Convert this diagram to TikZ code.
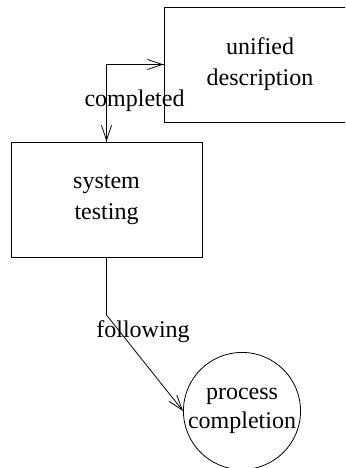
\documentclass[tikz,border=0pt]{standalone}
\usepackage{fontspec}
\setmainfont{Liberation Serif}
\usetikzlibrary{arrows.meta}
\begin{document}
\begin{tikzpicture}[x=1pt,y=1pt,
  box/.style={draw, line width=0.8pt, rectangle, align=center, font=\fontsize{24}{31}\selectfont, inner sep=0pt},
  circ/.style={draw, line width=0.8pt, circle, align=center, font=\fontsize{24}{29}\selectfont, inner sep=0pt},
  conn/.style={line width=0.8pt, -{Straight Barb[length=15pt,width=10pt]}},
  lbl/.style={font=\fontsize{24}{28}\selectfont, inner sep=0pt}]
\useasboundingbox (0,0) rectangle (345,468);
\begin{scope}
\clip (0,0) rectangle (345,468);
\node[box, minimum width=192, minimum height=115] (ud) at (260,403.5) {unified\\description};
\node[box, minimum width=191, minimum height=115] (st) at (106.5,268.5) {system\\testing};
\node[circ, minimum size=116] (pc) at (242,57) {process\\completion};
\coordinate (bend) at (106.5,153);
\draw[conn] (st.north) |- (ud.west);
\draw[conn] (ud.west) -| (st.north);
\draw[conn] (st.south) -- (bend) -- (pc.west);
\node[lbl] (lc) at (134.5,367) {completed};
\node[lbl] (lf) at (143,136) {following};
\end{scope}
\end{tikzpicture}
\end{document}
